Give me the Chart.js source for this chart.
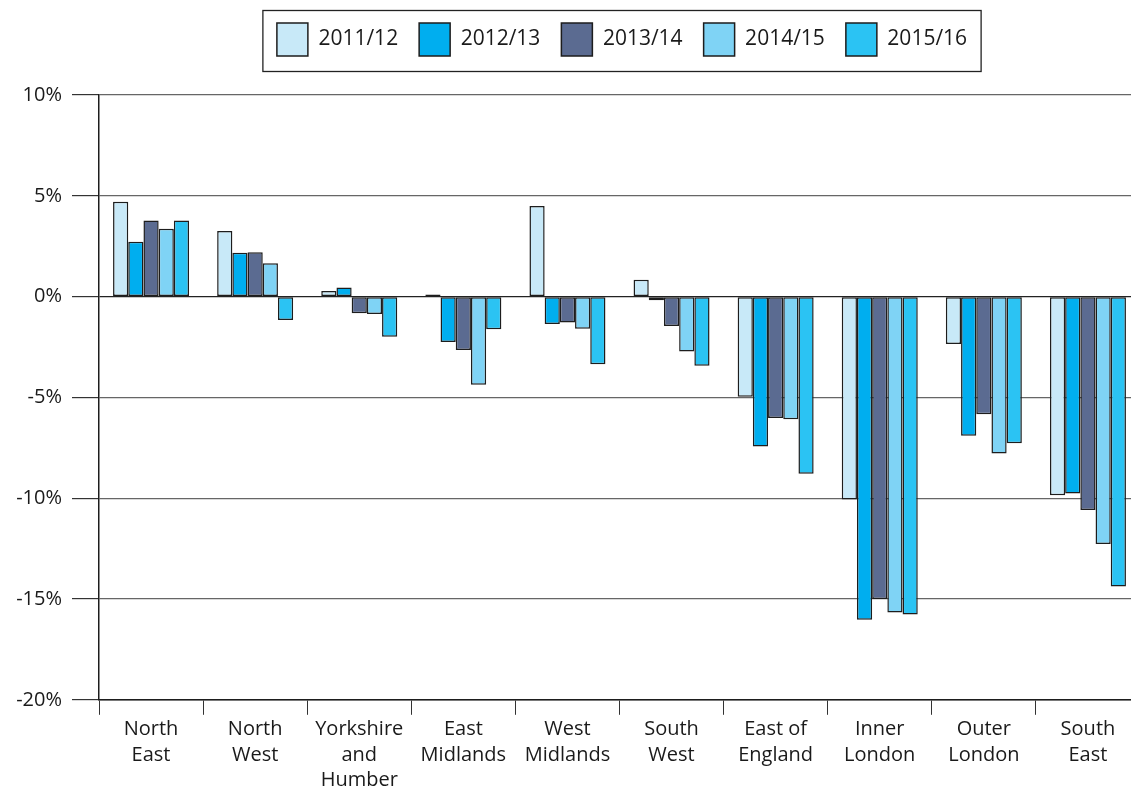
<!DOCTYPE html>
<html>
<head>
<meta charset="utf-8">
<script src="https://cdn.jsdelivr.net/npm/chart.js@4"></script>
<style>
  html, body { margin: 0; padding: 0; background: #fff; overflow: hidden; }
  canvas { display: block; }
</style>
</head>
<body>
<canvas id="chart" width="1140" height="795"></canvas>
<script>
// data
const regions = [["North", "East"], ["North", "West"], ["Yorkshire", "and", "Humber"], ["East", "Midlands"],
  ["West", "Midlands"], ["South", "West"], ["East of", "England"], ["Inner", "London"], ["Outer", "London"], ["South", "East"]];
const years = ["2011/12", "2012/13", "2013/14", "2014/15", "2015/16"];
const colours = ["#c8e9f8", "#00aeef", "#5b6b91", "#7fd3f5", "#2bc3f3"];

const y2011 = [4.70, 3.26, 0.28, 0.11, 4.50, 0.83, -4.97, -10.06, -2.35, -9.85];
const y2012 = [2.72, 2.17, 0.45, -2.25, -1.36, -0.18, -7.43, -16.03, -6.90, -9.77];
const y2013 = [3.77, 2.20, -0.83, -2.65, -1.29, -1.46, -6.02, -15.00, -5.84, -10.58];
const y2014 = [3.37, 1.65, -0.86, -4.37, -1.59, -2.72, -6.08, -15.67, -7.78, -12.27];
const y2015 = [3.77, -1.16, -1.99, -1.62, -3.35, -3.43, -8.79, -15.77, -7.28, -14.38];
const yTicks = [-20, -15, -10, -5, 0, 5, 10];

const series = [y2011, y2012, y2013, y2014, y2015];
const FONT = "'Open Sans', 'DejaVu Sans', sans-serif";
const LEGEND_CENTER = 622;
const LEGEND_HEIGHT = 93; // space kept above the plot

// legend: fixed height, moved sideways, box drawn round it
const legendFrame = {
  id: "legendFrame",
  beforeLayout(chart) {
    const lg = chart.legend;
    if (lg && !lg._patched) {
      const fit = lg.fit.bind(lg);
      lg.fit = function () { fit(); this.height = LEGEND_HEIGHT; };
      lg._patched = true;
    }
  },
  afterLayout(chart) {
    const lg = chart.legend;
    const dx = LEGEND_CENTER - (lg.left + lg.right) / 2;
    lg.left += dx;
    lg.right += dx;
  },
  afterDraw(chart) {
    const hb = chart.legend.legendHitBoxes;
    if (!hb || !hb.length) return;
    const last = hb[hb.length - 1];
    const x0 = hb[0].left - 14;
    const x1 = last.left + last.width + 14;
    const ctx = chart.ctx;
    ctx.save();
    ctx.strokeStyle = "#222";
    ctx.lineWidth = 1.3;
    ctx.strokeRect(x0, 10.5, x1 - x0, 61);
    ctx.restore();
  }
};

new Chart(document.getElementById("chart"), {
  type: "bar",
  data: {
    labels: regions,
    datasets: years.map((y, i) => ({
      label: y,
      data: series[i],
      backgroundColor: colours[i],
      borderColor: "#1d1d1d",
      borderWidth: 1.5,
      borderSkipped: false,
      categoryPercentage: 0.73,
      barPercentage: 1
    }))
  },
  options: {
    responsive: false,
    animation: false,
    layout: { padding: { top: 2, left: 0, right: 0, bottom: 0 } },
    plugins: {
      tooltip: { enabled: false },
      legend: {
        position: "top",
        labels: {
          boxWidth: 31,
          boxHeight: 33,
          padding: 21,
          color: "#1a1a1a",
          font: { family: FONT, size: 21 }
        }
      }
    },
    scales: {
      x: {
        grid: { offset: true, drawOnChartArea: false, drawTicks: true, tickLength: 15, color: "#333" },
        border: { display: true, color: "#1d1d1d", width: 1.5 },
        ticks: {
          color: "#1a1a1a",
          padding: 2,
          maxRotation: 0,
          autoSkip: false,
          font: { family: FONT, size: 20, lineHeight: 1.27 }
        }
      },
      y: {
        min: -20,
        max: 10,
        afterBuildTicks: s => { s.ticks = yTicks.map(v => ({ value: v })); },
        afterFit: s => { s.width = 99; },
        grid: {
          color: c => (c.tick && c.tick.value === 0 ? "#222" : "#666"),
          lineWidth: 1.2,
          tickLength: 27,
          tickColor: "#333"
        },
        border: { display: true, color: "#1d1d1d", width: 1.5 },
        ticks: {
          color: "#1a1a1a",
          padding: 10,
          font: { family: FONT, size: 20 },
          callback: v => v + "%"
        }
      }
    }
  },
  plugins: [legendFrame]
});
</script>
</body>
</html>
